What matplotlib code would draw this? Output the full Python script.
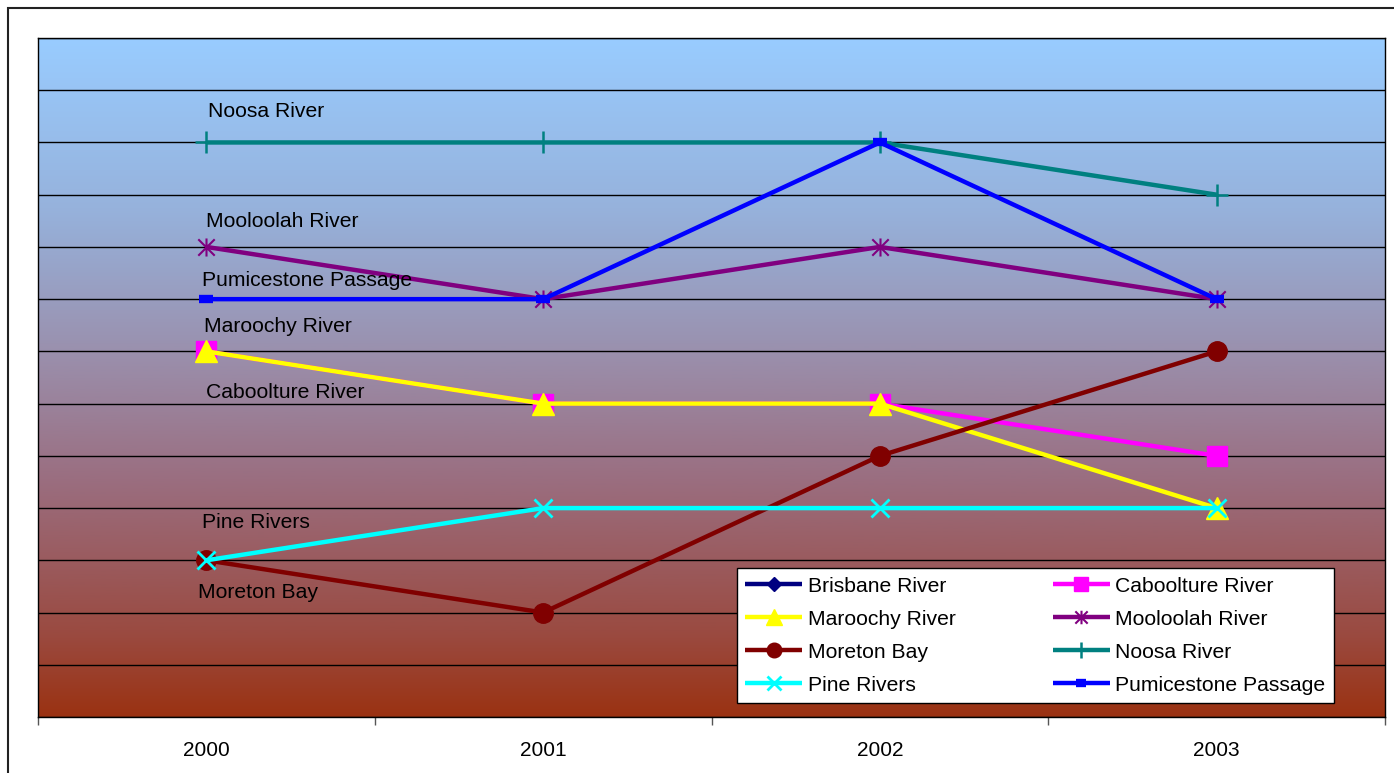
import numpy as np
import matplotlib
matplotlib.use("Agg")
import matplotlib.pyplot as plt
from matplotlib.colors import LinearSegmentedColormap
from matplotlib.patches import Rectangle
from matplotlib.path import Path

plt.rcParams['font.family'] = ['Liberation Sans', 'DejaVu Sans']

years = ['2000', '2001', '2002', '2003']
brisbane = [np.nan, np.nan, np.nan, np.nan]
caboolture = [7, 6, 6, 5]
maroochy = [7, 6, 6, 4]
mooloolah = [9, 8, 9, 8]
moreton = [3, 2, 5, 7]
noosa = [11, 11, 11, 10]
pine = [3, 4, 4, 4]
pumicestone = [8, 8, 11, 8]

# excel style asterisk: an X with a vertical bar through it
star = Path([(-1, -1), (1, 1), (-1, 1), (1, -1), (0, -1.1), (0, 1.1)],
            [Path.MOVETO, Path.LINETO] * 3)

series = [
    ('Brisbane River', brisbane, '#000080', dict(marker='D', ms=10)),
    ('Caboolture River', caboolture, '#FF00FF', dict(marker='s', ms=14)),
    ('Maroochy River', maroochy, '#FFFF00', dict(marker='^', ms=16)),
    ('Mooloolah River', mooloolah, '#800080', dict(marker=star, ms=13, mew=1.5)),
    ('Moreton Bay', moreton, '#800000', dict(marker='o', ms=14)),
    ('Noosa River', noosa, '#008080', dict(marker='+', ms=16, mew=1.8)),
    ('Pine Rivers', pine, '#00FFFF', dict(marker='x', ms=13, mew=2)),
    ('Pumicestone Passage', pumicestone, '#0000FF', dict(marker='_', ms=10, mew=6)),
]

fig = plt.figure(figsize=(13.94, 7.73), dpi=100)
ax = fig.add_axes([38 / 1394, 1 - 717 / 773, 1347 / 1394, 679 / 773])

# background gradient, light blue at top to brown at bottom
cmap = LinearSegmentedColormap.from_list('bg', [
    (0.0, '#9B3212'), (0.12, '#9A4A40'), (0.35, '#9A6E80'),
    (0.55, '#9A92B0'), (0.75, '#96B2DC'), (1.0, '#99CCFF')])
grad = np.linspace(0, 1, 256).reshape(-1, 1)
ax.imshow(grad, cmap=cmap, origin='lower', aspect='auto',
          extent=(-0.5, 3.5, 0, 13), zorder=0)

for lvl in range(0, 14):
    ax.axhline(lvl, color='black', lw=1, zorder=1)

x = np.arange(len(years))
handles = []
for name, vals, col, mk in series:
    h, = ax.plot(x, vals, color=col, lw=3.2, label=name, mfc=col, mec=col,
                 zorder=3, solid_capstyle='butt', **mk)
    handles.append(h)

labels = [('Noosa River', 0.005, 11.6), ('Mooloolah River', 0.0, 9.48),
          ('Pumicestone Passage', -0.012, 8.35), ('Maroochy River', -0.006, 7.48),
          ('Caboolture River', 0.0, 6.22), ('Pine Rivers', -0.012, 3.73),
          ('Moreton Bay', -0.024, 2.39)]
for txt, tx, ty in labels:
    ax.text(tx, ty, txt, fontsize=15.2, va='center', ha='left', zorder=4)

ax.set_xlim(-0.5, 3.5)
ax.set_ylim(0, 13)
ax.set_yticks([])
ax.set_xticks(x)
ax.set_xticklabels(years, fontsize=15)
ax.set_xticks(np.arange(-0.5, 4, 1), minor=True)
ax.tick_params(axis='x', which='major', length=0, pad=17)
ax.tick_params(axis='x', which='minor', length=6, width=1, color='#555555')
for s in ax.spines.values():
    s.set_color('black')
    s.set_linewidth(1)

# row-major legend order like the original
order = [0, 2, 4, 6, 1, 3, 5, 7]
leg = ax.legend([handles[i] for i in order], [series[i][0] for i in order],
                ncol=2, loc='lower left',
                bbox_to_anchor=(737 / 1394, 1 - 703 / 773),
                bbox_transform=fig.transFigure,
                fontsize=15.2, frameon=True, fancybox=False,
                edgecolor='black', facecolor='white', framealpha=1,
                handlelength=2.7, handletextpad=0.25, labelspacing=0.66,
                columnspacing=4.6, borderpad=0.4, borderaxespad=0,
                markerscale=0.75)
leg.get_frame().set_linewidth(1)
leg.set_zorder(5)

# outer chart border
fig.patches.append(Rectangle((8 / 1394, -0.05), 1.2, 1 - 8 / 773 + 0.05,
                             transform=fig.transFigure, fill=False,
                             edgecolor='#222222', lw=1.5))

fig.savefig('out.png', dpi=100)
